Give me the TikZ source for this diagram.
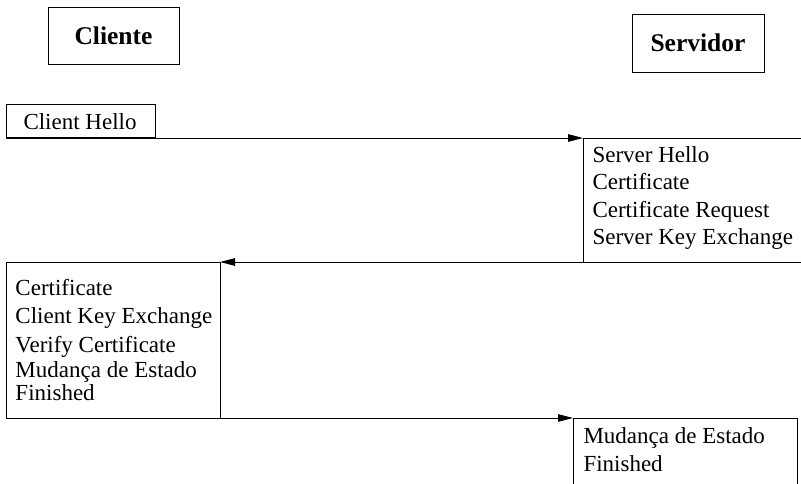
\documentclass[tikz,border=0pt]{standalone}
\usepackage{fontspec}
\setmainfont{Liberation Serif}
\usetikzlibrary{arrows.meta}
\begin{document}
\begin{tikzpicture}[x=1pt,y=-1pt,line width=1pt,
  hdr/.style={draw,rectangle,inner sep=0pt,font=\fontsize{25.5}{30}\selectfont\bfseries},
  msg/.style={anchor=base west,inner sep=0pt,font=\fontsize{23}{27}\selectfont},
  tip/.style={-{Triangle[length=15pt,width=7.5pt]}}]
\useasboundingbox (0,0) rectangle (801,483);
% participants
\node[hdr,minimum width=131pt,minimum height=57pt] (cli) at (113.5,35.5) {Cliente};
\node[hdr,minimum width=132pt,minimum height=58pt] (srv) at (698,43) {Servidor};
% Client Hello
\node[draw,rectangle,inner sep=0pt,minimum width=149pt,minimum height=33pt,anchor=south west] (hello) at (6,138) {};
\node[msg] (hellot) at (23,129) {Client Hello};
% server box
\coordinate (s1) at (583,138);
\coordinate (s2) at (583,262);
\coordinate (r1) at (801,138);
\coordinate (r2) at (801,262);
\draw[tip] (hello.south west) -- (s1);
\draw (s1) -- (r1);
\draw (s1) -- (s2);
\node[msg] (sv1) at (592,162) {Server Hello};
\node[msg] (sv2) at (592,189.5) {Certificate};
\node[msg] (sv3) at (592,217) {Certificate Request};
\node[msg] (sv4) at (592,244.5) {Server Key Exchange};
% client box
\coordinate (c0) at (6,262);
\coordinate (c1) at (220,262);
\coordinate (c2) at (220,418);
\draw[tip] (r2) -- (c1);
\draw (c0) rectangle (c2);
\node[msg] (cl1) at (15,295) {Certificate};
\node[msg] (cl2) at (15,323) {Client Key Exchange};
\node[msg] (cl3) at (15,352) {Verify Certificate};
\node[msg] (cl4) at (15,377) {Mudança de Estado};
\node[msg] (cl5) at (15,400) {Finished};
% final box
\coordinate (f1) at (573,418);
\coordinate (f2) at (797,418);
\coordinate (f3) at (797,484);
\coordinate (f4) at (573,484);
\draw[tip] (c2) -- (f1);
\draw (f4) -- (f1) -- (f2) -- (f3);
\node[msg] (fn1) at (583,443) {Mudança de Estado};
\node[msg] (fn2) at (583,471) {Finished};
\end{tikzpicture}
\end{document}
